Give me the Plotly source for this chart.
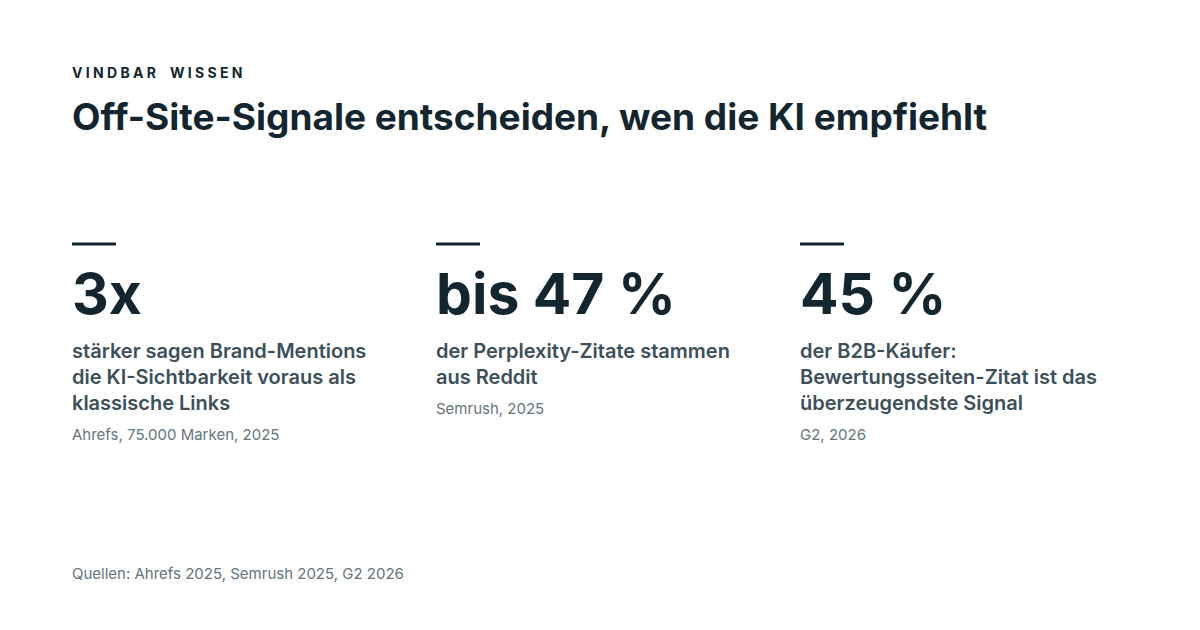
import plotly.graph_objects as go

W, H = 1200, 630

kicker = "VINDBAR WISSEN"
title = "Off-Site-Signale entscheiden, wen die KI empfiehlt"
values = ["3x", "bis 47 %", "45 %"]
descriptions = [
    "stärker sagen Brand-Mentions<br>die KI-Sichtbarkeit voraus als<br>klassische Links",
    "der Perplexity-Zitate stammen<br>aus Reddit",
    "der B2B-Käufer:<br>Bewertungsseiten-Zitat ist das<br>überzeugendste Signal",
]
desc_lines = [3, 2, 3]
sources = ["Ahrefs, 75.000 Marken, 2025", "Semrush, 2025", "G2, 2026"]
footer = "Quellen: Ahrefs 2025, Semrush 2025, G2 2026"

DARK = "#13262f"
MID = "#3d505a"
GRAY = "#66747c"
FONT = "Inter, Open Sans, sans-serif"
col_x = [72, 436, 800]
DX, DY = -10, -8  # page offset correction (annotations include 2px pad)


def px(x, dx=DX):
    return (x + dx) / W


def py(y):
    return 1 - (y + DY) / H


fig = go.Figure()
ann = []
shapes = []


def text(x, y, t, size, color, weight="normal", anchor="top"):
    ann.append(dict(x=px(x), y=py(y), xref="paper", yref="paper", text=t,
                    showarrow=False, xanchor="left", yanchor=anchor, align="left",
                    font=dict(family=FONT, size=size, color=color, weight=weight)))


text(72, 73, " ".join(kicker).replace("   ", "\u2003"), 14, DARK, "bold", "middle")
text(72, 116, title, 37, DARK, "bold", "middle")

for i in range(3):
    x = col_x[i]
    shapes.append(dict(type="line", xref="paper", yref="paper",
                       x0=px(x, -8), x1=px(x + 44, -8), y0=py(244), y1=py(244),
                       line=dict(color=DARK, width=3)))
    text(x, 294, values[i], 57, DARK, "bold", "middle")
    text(x, 337, descriptions[i], 20, MID, 600, "top")
    text(x, 337 + desc_lines[i] * 26 + 8, sources[i], 15, GRAY, "normal", "top")

text(72, 573, footer, 15, GRAY, "normal", "middle")

fig.update_layout(
    width=W, height=H, margin=dict(l=0, r=0, t=0, b=0),
    paper_bgcolor="white", plot_bgcolor="white",
    xaxis=dict(visible=False), yaxis=dict(visible=False),
    annotations=ann, shapes=shapes, showlegend=False,
)
fig.write_html("out.html")
